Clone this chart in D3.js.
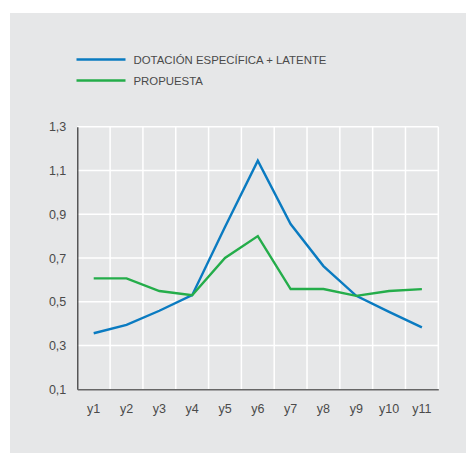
<!DOCTYPE html>
<html><head><meta charset="utf-8">
<script src="https://cdn.jsdelivr.net/npm/d3@7"></script>
<style>
html,body{margin:0;padding:0;background:#fff;}
svg{display:block;}
text{font-family:"Liberation Sans",Arial,Helvetica,sans-serif;}
</style></head>
<body>
<svg id="chart" width="466" height="453"></svg>
<script>
const categories = ["y1","y2","y3","y4","y5","y6","y7","y8","y9","y10","y11"];
const seriesNames = ["DOTACIÓN ESPECÍFICA + LATENTE","PROPUESTA"];
const seriesColors = ["#0a7bc1","#24ad4a"];
const dotacion = [0.356,0.394,0.459,0.53,0.842,1.145,0.855,0.663,0.527,0.454,0.383];
const propuesta = [0.607,0.607,0.549,0.53,0.70,0.80,0.558,0.558,0.527,0.549,0.558];
const yTicks = [0.1,0.3,0.5,0.7,0.9,1.1,1.3];

(function(){
const svg = d3.select("#chart");
svg.append("rect").attr("x",10).attr("y",13).attr("width",456).attr("height",440).attr("fill","#e6e7e8");

const pL = 77.3, pR = 438.3, pT = 126.7, pB = 389.3;
const x = d3.scaleBand().domain(categories).range([pL,pR]);
const y = d3.scaleLinear().domain([0.1,1.3]).range([pB,pT]);

// grid
const g = svg.append("g");
g.selectAll("line.h").data(yTicks.slice(1)).join("line")
  .attr("x1",pL).attr("x2",pR).attr("y1",d=>y(d)).attr("y2",d=>y(d))
  .attr("stroke","#fff").attr("stroke-width",1.5);
g.selectAll("line.v").data(categories).join("line")
  .attr("x1",d=>x(d)+x.bandwidth()).attr("x2",d=>x(d)+x.bandwidth())
  .attr("y1",pT).attr("y2",pB)
  .attr("stroke","#fff").attr("stroke-width",1.5);

// axes
const yAxis = svg.append("g").attr("transform",`translate(${pL},0)`)
  .call(d3.axisLeft(y).tickValues(yTicks).tickSize(0).tickPadding(11).tickFormat(d=>d3.format(".1f")(d).replace(".",",")));
yAxis.select(".domain").attr("stroke","#333").attr("stroke-width",1.2);
yAxis.selectAll("text").attr("font-size",12.5).attr("fill","#4a4a4a");

const xAxis = svg.append("g").attr("transform",`translate(0,${pB})`)
  .call(d3.axisBottom(x).tickSize(0).tickPadding(15));
xAxis.select(".domain").attr("stroke","#666").attr("stroke-width",1.5);
xAxis.selectAll("text").attr("font-size",12.5).attr("fill","#4a4a4a");

// lines
const line = d3.line().x((d,i)=>x(categories[i])+x.bandwidth()/2).y(d=>y(d));
[dotacion, propuesta].forEach((s,i)=>{
  svg.append("path").datum(s).attr("d",line).attr("fill","none")
    .attr("stroke",seriesColors[i]).attr("stroke-width",2.4).attr("stroke-linejoin","miter");
});

// legend
const leg = svg.append("g");
seriesNames.forEach((n,i)=>{
  const ly = 59.5 + i*21;
  leg.append("line").attr("x1",76.5).attr("x2",125.5).attr("y1",ly).attr("y2",ly)
    .attr("stroke",seriesColors[i]).attr("stroke-width",2.4);
  leg.append("text").attr("x",133.5).attr("y",ly+4).attr("font-size",11.4).attr("fill","#4a4a4a")
    .text(n);
});
})();
</script>
</body></html>
